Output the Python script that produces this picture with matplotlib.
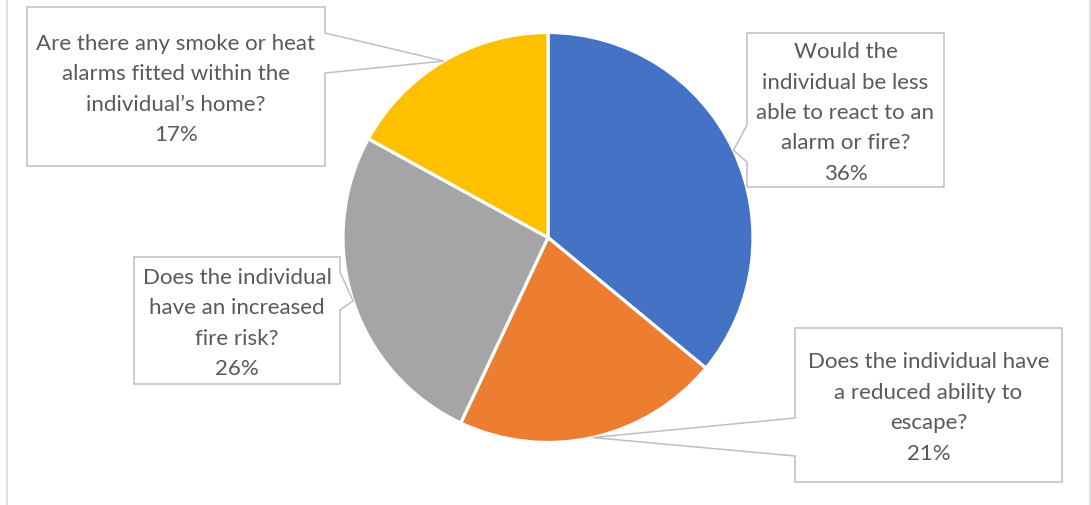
import numpy as np
import matplotlib.pyplot as plt
from matplotlib.patches import Polygon

plt.rcParams["font.family"] = ["Lato", "DejaVu Sans"]

W, H = 1091, 505

# data
labels = [
    "Would the\nindividual be less\nable to react to an\nalarm or fire?",
    "Does the individual have\na reduced ability to\nescape?",
    "Does the individual\nhave an increased\nfire risk?",
    "Are there any smoke or heat\nalarms fitted within the\nindividual\u2019s home?",
]
values = [36, 21, 26, 17]
colors = ["#4472C4", "#ED7D31", "#A5A5A5", "#FFC000"]

# callout boxes in pixel coords: (x0, y0, x1, y1), pointer side, pointer base y range
boxes = [
    ((747, 33, 944, 187), "left", (125, 162)),
    ((795, 328, 1062, 482), "left", (418, 456)),
    ((134, 257, 340, 384), "right", (272, 310)),
    ((27, 7, 325, 166), "right", (33, 73)),
]

CX, CY, R = 548, 237.5, 205

fig = plt.figure(figsize=(W / 100, H / 100), dpi=100)
ax = fig.add_axes([0, 0, 1, 1])

wedges, _ = ax.pie(values, colors=colors, startangle=90, counterclock=False,
                   center=(CX, H - CY), radius=R,
                   wedgeprops=dict(edgecolor="white", linewidth=2.3))
ax.set_xlim(0, W)
ax.set_ylim(0, H)
ax.set_aspect("auto")
ax.axis("off")

for w, lab, v, (box, side, (by0, by1)) in zip(wedges, labels, values, boxes):
    # pointer tip sits on the rim at the middle of the slice
    mid = np.deg2rad((w.theta1 + w.theta2) / 2)
    tx = CX + R * np.cos(mid)
    ty = (H - CY) + R * np.sin(mid)
    x0, y0, x1, y1 = box
    if side == "left":
        pts = [(x0, y0), (x1, y0), (x1, y1), (x0, y1), (x0, by1), (tx, H - ty), (x0, by0)]
    else:
        pts = [(x0, y0), (x1, y0), (x1, by0), (tx, H - ty), (x1, by1), (x1, y1), (x0, y1)]
    pts = [(px, H - py) for px, py in pts]
    ax.add_patch(Polygon(pts, closed=True, facecolor="white", edgecolor="#BFBFBF",
                         linewidth=1.1, zorder=3))
    ax.text((x0 + x1) / 2, H - (y0 + y1) / 2 - 3, f"{lab}\n{v}%", ha="center", va="center",
            fontsize=16, color="#595959", linespacing=1.65, zorder=4)

# chart area border
for x in (6.5, 1089.5):
    fig.add_artist(plt.Line2D([x / W, x / W], [0, 1], color="#D9D9D9", linewidth=1.2))

fig.savefig("out.png", dpi=100)
